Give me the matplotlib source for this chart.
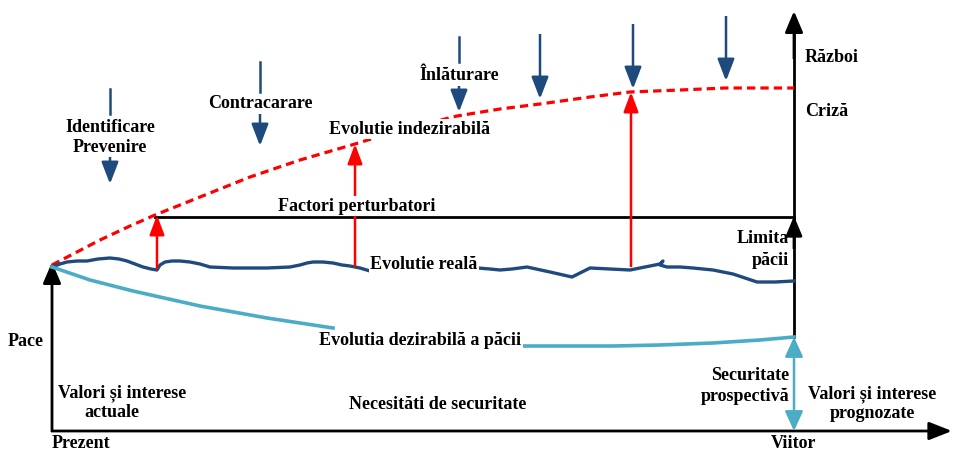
import matplotlib.pyplot as plt
from matplotlib.patches import FancyArrowPatch, Rectangle

# diagram drawn in pixel coordinates (y down)
W, H = 956, 452

BLACK = 'black'
RED = '#ff0000'
NAVY = '#1f4a7e'
CYAN = '#4bacc6'

# red dashed "evolutie indezirabila" curve
red_x = [52, 75, 100, 130, 155, 200, 250, 300, 355, 400, 457, 500, 540, 590, 630, 680, 725, 760, 794]
red_y = [266, 254, 241, 227, 216, 198, 178, 161, 145, 131, 117, 110, 105, 98, 93, 91, 89, 89, 89]

# wavy real evolution (two pieces, label in between)
real1_x = [52, 60, 67, 77, 87, 98, 110, 119, 127, 135, 143, 151, 157, 160, 165, 172, 180, 190, 200,
           210, 233, 267, 290, 300, 307, 313, 323, 333, 342, 350, 360, 370]
real1_y = [268, 265, 263, 262, 262, 260, 259, 260, 262, 265, 268, 270, 271, 266, 263, 262, 262, 263, 265,
           268, 269, 269, 268, 266, 264, 263, 263, 264, 266, 267, 269, 272]
real2_x = [478, 490, 500, 512, 527, 550, 572, 580, 590, 610, 630, 645, 660, 663, 660, 667, 680, 693,
           713, 733, 745, 757, 775, 794]
real2_y = [269, 270, 271, 270, 268, 273, 278, 274, 269, 270, 271, 268, 265, 262, 266, 268, 268, 269,
           271, 275, 279, 283, 283, 282]

# desirable evolution (cyan)
des1_x = [52, 90, 133, 200, 267, 333]
des1_y = [268, 281, 292, 307, 319, 329]
des2_x = [522, 560, 613, 660, 713, 760, 794]
des2_y = [347, 347, 347, 346, 344, 341, 338]

# red "factori perturbatori" arrows: x, y base, y tip
red_arrows = [(157, 270, 216), (355, 268, 145), (631, 268, 93)]

# blue down arrows: x, line top, line bottom, head start, head tip
blue_arrows = [(110, 90, 115, 158, 185),
               (260, 63, 93, 115, 147),
               (459, 38, 63, 87, 113),
               (540, 35, None, None, 100),
               (633, 25, None, None, 90),
               (726, 17, None, None, 82)]

labels = [
    ('Identificare', 110, 128, 'center'),
    ('Prevenire', 110, 148, 'center'),
    ('Contracarare', 260, 104, 'center'),
    ('Înlăturare', 459, 75, 'center'),
    ('Război', 805, 58, 'left'),
    ('Criză', 805, 112, 'left'),
    ('Limita', 789, 239, 'right'),
    ('păcii', 789, 261, 'right'),
    ('Pace', 8, 342, 'left'),
    ('actuale', 112, 413, 'center'),
    ('Necesităti de securitate', 438, 405, 'center'),
    ('Securitate', 789, 376, 'right'),
    ('prospectivă', 789, 397, 'right'),
    ('prognozate', 872, 414, 'center'),
    ('Prezent', 52, 444, 'left'),
    ('Viitor', 794, 444, 'center'),
]
boxed_labels = [
    ('Factori perturbatori', 357, 207),
    ('Evolutie indezirabilă', 410, 130),
    ('Evolutie reală', 424, 265),
    ('Evolutia dezirabilă a păcii', 420, 341),
]
# text boxes that cut their last letter: text, x left, y, clip right edge
clipped_labels = [
    ('Valori și interese', 58, 393, 185),
    ('Valori și interese', 808, 394, 934),
]

plt.rcParams['font.family'] = ['Liberation Serif', 'DejaVu Serif']

fig = plt.figure(figsize=(W / 100, H / 100), dpi=100)
ax = fig.add_axes([0, 0, 1, 1])
ax.set_xlim(0, W)
ax.set_ylim(H, 0)
ax.axis('off')


def arrow(x0, y0, x1, y1, color, lw, hl, hw, style='-|>', z=3):
    a = FancyArrowPatch((x0, y0), (x1, y1),
                        arrowstyle=f'{style},head_length={hl},head_width={hw}',
                        color=color, lw=lw, shrinkA=0, shrinkB=0,
                        mutation_scale=1, zorder=z, capstyle='butt')
    ax.add_patch(a)


# frame
arrow(51, 432, 952, 432, BLACK, 2, 14, 5.5)
arrow(52, 433, 52, 263, BLACK, 2, 13, 5.5)
ax.plot([794, 794], [338, 30], color=BLACK, lw=2, zorder=2)
arrow(794, 60, 794, 12, BLACK, 2, 13, 5.5)
arrow(794, 250, 794, 217, BLACK, 2, 12, 5)
ax.plot([155, 794], [218, 218], color=BLACK, lw=2, zorder=2)

# curves
ax.plot(red_x, red_y, color=RED, lw=2.3, dashes=(2.6, 1.6), zorder=3)
ax.plot(real1_x, real1_y, color=NAVY, lw=2.4, zorder=3, solid_joinstyle='round')
ax.plot(real2_x, real2_y, color=NAVY, lw=2.4, zorder=3, solid_joinstyle='round')
ax.plot(des1_x, des1_y, color=CYAN, lw=2.6, zorder=3)
ax.plot(des2_x, des2_y, color=CYAN, lw=2.6, zorder=3)

# red arrows
for x, yb, yt in red_arrows:
    arrow(x, yb, x, yt, RED, 1.8, 12, 4.5)

# blue arrows
for x, lt, lb, hs, tip in blue_arrows:
    if lb is None:
        arrow(x, lt, x, tip, NAVY, 1.8, 13.5, 5.2)
    else:
        ax.plot([x, x], [lt, lb], color=NAVY, lw=1.8, zorder=3)
        arrow(x, hs, x, tip, NAVY, 1.8, 13.5, 5.2)

# cyan double arrow
arrow(794, 432, 794, 338, CYAN, 1.8, 12, 5.5, style='<|-|>')

fs = 13
for t, x, y, ha in labels:
    ax.text(x, y, t, ha=ha, va='center', fontsize=fs, fontweight='bold', zorder=5)
for t, x, y in boxed_labels:
    ax.text(x, y, t, ha='center', va='center', fontsize=fs, fontweight='bold', zorder=5,
            bbox=dict(facecolor='white', edgecolor='none', pad=1))
for t, x, y, xr in clipped_labels:
    txt = ax.text(x, y, t, ha='left', va='center', fontsize=fs, fontweight='bold', zorder=5)
    clip = Rectangle((x - 5, y - 15), xr - x + 5, 30, transform=ax.transData,
                     fill=False, visible=False)
    ax.add_patch(clip)
    txt.set_clip_path(clip)

fig.savefig('out.png', dpi=100)
